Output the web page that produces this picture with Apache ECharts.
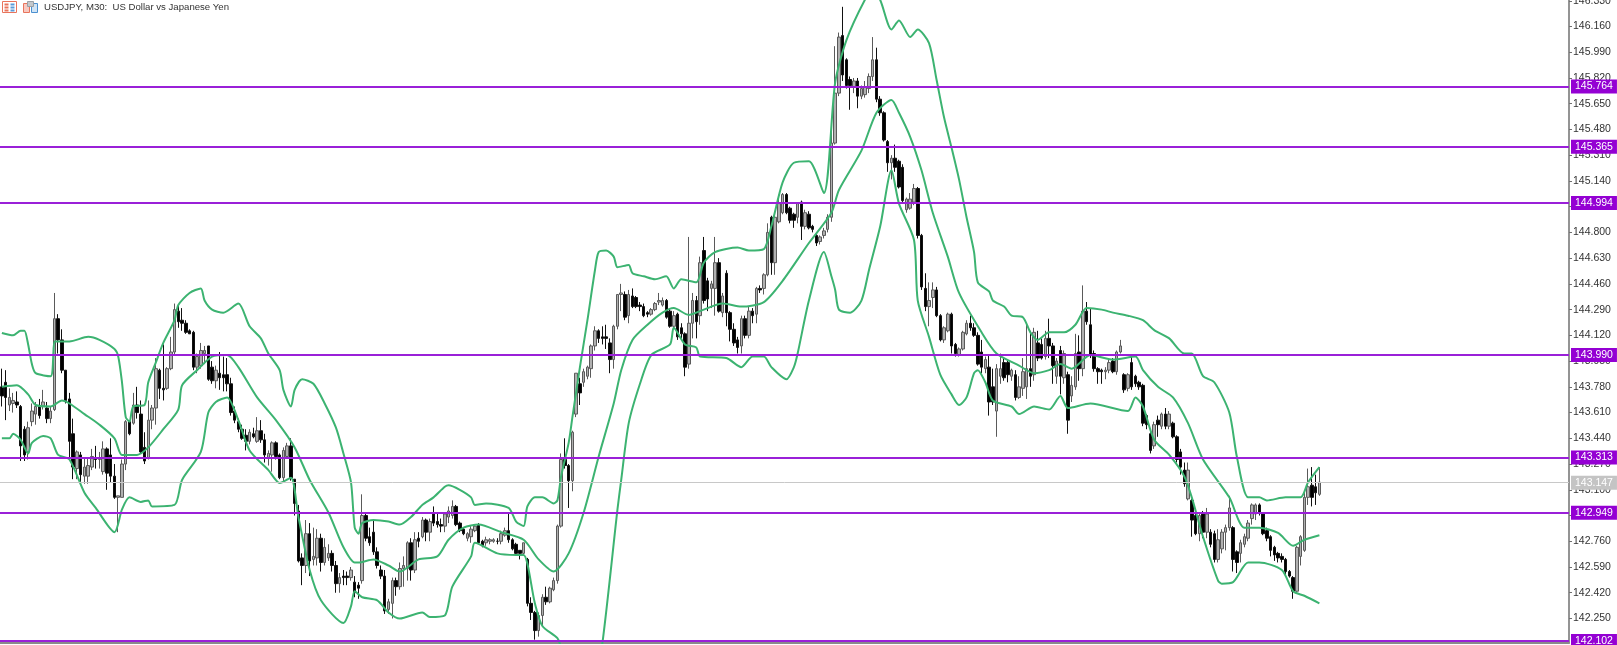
<!DOCTYPE html>
<html><head><meta charset="utf-8">
<style>html,body{margin:0;padding:0;background:#fff}#c{width:1617px;height:645px}</style>
<script src="https://cdn.jsdelivr.net/npm/echarts@6/dist/echarts.min.js"></script>
</head><body><div id="c"></div>
<script>
// Each candle row: [open, close, low, high]
const candlesLeft=[
[143.78,143.72,143.65,143.90],[143.81,143.71,143.56,143.89],[143.66,143.71,143.62,143.77],[143.67,143.69,143.61,143.74],[143.68,143.66,143.64,143.75],[143.65,143.39,143.29,143.66],[143.50,143.33,143.29,143.52],[143.35,143.51,143.30,143.55],[143.55,143.62,143.52,143.67],[143.60,143.65,143.53,143.68],
[143.65,143.59,143.57,143.70],[143.65,143.68,143.63,143.76],[143.64,143.57,143.54,143.68],[143.57,143.62,143.54,143.65],[143.63,144.23,143.62,144.40],[144.23,144.09,144.00,144.26],[144.09,143.89,143.87,144.16],[143.89,143.69,143.67,143.89],[143.70,143.42,143.31,143.74],[143.47,143.25,143.17,143.57],
[143.24,143.35,143.17,143.36],[143.33,143.20,143.14,143.35],[143.19,143.25,143.14,143.31],[143.19,143.26,143.14,143.31],[143.25,143.32,143.23,143.37],[143.31,143.30,143.24,143.39],[143.30,143.31,143.24,143.35],[143.22,143.37,143.20,143.42],[143.37,143.21,143.10,143.38],[143.33,143.19,143.15,143.44],
[143.19,143.05,143.04,143.27],[143.05,143.06,142.82,143.06],[143.05,143.27,143.05,143.30],[143.27,143.55,143.23,143.56],[143.55,143.47,143.46,143.55],[143.54,143.66,143.53,143.74],[143.66,143.61,143.57,143.78],[143.60,143.35,143.34,143.69],[143.38,143.29,143.27,143.48],[143.31,143.56,143.30,143.69],
[143.56,143.64,143.50,143.66],[143.64,143.90,143.53,143.97],[143.89,143.77,143.70,143.90],[143.77,143.76,143.69,144.06],[143.77,143.90,143.76,143.91],[143.90,144.01,143.89,144.11],[144.01,144.29,143.99,144.33],[144.28,144.21,144.17,144.32],[144.22,144.20,144.15,144.30],[144.20,144.14,144.13,144.22],
[144.15,144.13,144.13,144.16],[144.14,143.91,143.89,144.15],[143.91,143.98,143.87,144.00]];
const candlesDrop=[
[143.92,144.02,143.90,144.07],[144.00,144.02,143.93,144.05],[144.05,143.83,143.82,144.05],[143.91,143.82,143.80,143.95],[143.82,143.89,143.77,143.92],[143.87,143.84,143.76,144.01],[143.86,143.84,143.75,143.98],[143.86,143.80,143.75,143.97],[143.80,143.61,143.59,143.84],[143.62,143.56,143.54,143.65],
[143.55,143.50,143.48,143.57],[143.50,143.44,143.43,143.53],[143.46,143.42,143.36,143.50],[143.42,143.48,143.40,143.50],[143.47,143.45,143.44,143.51],[143.42,143.49,143.41,143.58],[143.49,143.43,143.41,143.56],[143.43,143.33,143.28,143.47],[143.31,143.34,143.26,143.36],[143.33,143.41,143.22,143.42],
[143.41,143.32,143.30,143.42],[143.33,143.18,143.17,143.34],[143.18,143.36,143.15,143.38],[143.32,143.39,143.31,143.41],[143.39,143.18,143.16,143.44],[143.17,143.01,142.93,143.17],[142.96,142.63,142.62,143.00],[142.65,142.60,142.47,142.68],[142.60,142.81,142.55,142.90],[142.81,142.63,142.53,142.88],
[142.64,142.66,142.60,142.85],[142.65,142.78,142.60,142.84],[142.78,142.62,142.56,142.81],[142.62,142.72,142.60,142.78],[142.65,142.68,142.63,142.74],[142.68,142.60,142.56,142.70],[142.60,142.48,142.42,142.63],[142.48,142.52,142.42,142.55],[142.53,142.52,142.47,142.57],[142.53,142.52,142.47,142.56],
[142.52,142.57,142.50,142.59],[142.49,142.42,142.39,142.53],[142.47,142.45,142.38,142.49],[142.50,142.93,142.48,143.07],[142.93,142.78,142.76,142.95],[142.79,142.75,142.73,142.85],[142.82,142.69,142.67,142.90],[142.69,142.60,142.58,142.72],[142.57,142.53,142.51,142.60],[142.53,142.30,142.28,142.57],
[142.31,142.36,142.28,142.38],[142.35,142.50,142.25,142.52],[142.50,142.46,142.40,142.52],[142.46,142.58,142.44,142.62],[142.58,142.60,142.46,142.66],[142.58,142.75,142.50,142.76],[142.75,142.57,142.50,142.78],[142.57,142.77,142.55,142.82],[142.78,142.76,142.72,142.82],[142.79,142.90,142.78,142.92],
[142.90,142.82,142.76,142.91],[142.82,142.89,142.76,142.91],[142.94,142.88,142.86,142.99],[142.89,142.87,142.85,142.94],[142.87,142.86,142.82,142.91],[142.86,142.94,142.82,142.95],[142.92,142.96,142.88,142.99],[142.93,142.99,142.91,143.03],[142.99,142.87,142.86,143.00],[142.88,142.83,142.82,142.89],
[142.84,142.81,142.80,142.85],[142.78,142.81,142.76,142.82],[142.79,142.84,142.75,142.86],[142.83,142.86,142.82,142.87],[142.87,142.75,142.74,142.88],[142.76,142.73,142.72,142.77],[142.75,142.77,142.73,142.79],[142.76,142.77,142.74,142.78],[142.76,142.77,142.75,142.78],[142.76,142.76,142.74,142.78],
[142.76,142.81,142.74,142.83],[142.80,142.83,142.79,142.85],[142.83,142.77,142.75,142.95],[142.77,142.71,142.70,142.78],[142.74,142.68,142.67,142.75],[142.70,142.68,142.64,142.70],[142.68,142.75,142.67,142.75],[142.64,142.35,142.33,142.65],[142.35,142.29,142.24,142.39],[142.29,142.17,142.11,142.30],
[142.17,142.27,142.13,142.29],[142.27,142.39,142.20,142.41],[142.39,142.36,142.34,142.46],[142.36,142.45,142.35,142.46],[142.44,142.50,142.43,142.52],[142.50,142.86,142.48,142.87],[142.86,143.30,142.85,143.34],[143.30,143.26,143.24,143.44],[143.26,143.16,142.98,143.27],[143.16,143.48,143.09,143.49],
[143.60,143.87,143.58,143.87],[143.80,143.74,143.66,143.84]];
const candlesRally=[
[143.81,143.88,143.78,143.90],[143.85,143.91,143.83,143.92],[143.90,144.05,143.84,144.06],[144.05,144.15,144.02,144.18],[144.15,144.10,144.07,144.16],[144.11,144.10,144.06,144.18],[144.11,144.10,144.03,144.19],[144.07,143.96,143.87,144.10],[143.96,144.18,143.90,144.19],[144.18,144.39,144.16,144.39],
[144.39,144.40,144.28,144.46],[144.39,144.24,144.22,144.41],[144.25,144.39,144.20,144.42],[144.38,144.31,144.30,144.43],[144.37,144.31,144.30,144.38],[144.32,144.31,144.28,144.34],[144.31,144.25,144.24,144.33],[144.27,144.26,144.24,144.28],[144.26,144.29,144.25,144.30],[144.29,144.33,144.28,144.34],
[144.34,144.35,144.32,144.40],[144.32,144.35,144.31,144.37],[144.35,144.24,144.23,144.36],[144.28,144.18,144.17,144.30],[144.18,144.25,144.17,144.28],[144.26,144.11,144.09,144.27],[144.17,144.13,144.10,144.20],[144.13,143.91,143.85,144.14],[143.93,144.20,143.90,144.77],[144.20,144.35,144.10,144.40],
[144.35,144.21,144.10,144.38],[144.25,144.60,144.19,144.64],[144.68,144.35,144.33,144.77],[144.48,144.36,144.28,144.50],[144.43,144.46,144.30,144.48],[144.43,144.60,144.25,144.77],[144.60,144.28,144.27,144.63],[144.27,144.38,144.24,144.40],[144.53,144.27,144.18,144.55],[144.27,144.16,144.08,144.28],
[144.16,144.07,144.05,144.20],[144.09,144.04,144.00,144.11],[144.05,144.23,144.00,144.25],[144.23,144.12,144.10,144.25],[144.12,144.28,144.10,144.31],[144.28,144.25,144.20,144.30],[144.26,144.43,144.20,144.44],[144.43,144.42,144.40,144.45],[144.43,144.52,144.39,144.53],[144.52,144.80,144.51,144.86],
[144.90,144.60,144.52,144.91],[144.60,144.90,144.52,144.92],[144.87,144.99,144.86,145.02],[144.93,145.05,144.92,145.06],[145.05,144.93,144.92,145.06],[144.96,144.88,144.86,144.97],[144.92,144.88,144.83,144.93],[144.90,144.99,144.86,145.00],[145.00,144.84,144.75,145.01],[144.84,144.93,144.82,144.95],
[144.92,144.83,144.82,144.94],[144.84,144.82,144.80,144.85],[144.78,144.73,144.71,144.79],[144.74,144.77,144.72,144.78],[144.78,144.81,144.76,144.83],[144.82,144.90,144.80,144.92],[144.90,145.39,144.87,145.49],[145.39,145.72,145.38,146.03],[145.72,146.09,145.70,146.12],[146.10,145.84,145.80,146.29],
[145.94,145.77,145.75,145.95],[145.81,145.77,145.61,145.83],[145.76,145.80,145.72,145.82],[145.80,145.70,145.62,145.82],[145.70,145.75,145.68,145.77],[145.71,145.76,145.69,145.80],[145.75,145.83,145.72,145.85],[145.83,145.94,145.80,146.09],[145.94,145.68,145.66,146.02],[145.68,145.59,145.57,145.70],
[145.59,145.41,145.40,145.60],[145.40,145.26,145.20,145.41],[145.26,145.29,145.15,145.31],[145.29,145.23,145.20,145.38],[145.27,145.10,145.09,145.28],[145.23,145.01,145.00,145.25],[144.95,145.02,144.93,145.03],[144.96,145.02,144.95,145.06],[145.00,145.09,144.98,145.12],[145.09,144.78,144.76,145.10],
[144.78,144.44,144.42,144.79],[144.43,144.31,144.28,144.53],[144.31,144.35,144.18,144.47],[144.37,144.42,144.30,144.47],[144.42,144.25,144.24,144.44],[144.25,144.09,144.08,144.26],[144.09,144.17,144.07,144.18],[144.15,144.26,144.14,144.27],[144.26,144.05,144.00,144.27],[144.06,144.00,143.98,144.07],
[143.99,144.03,143.98,144.04],[144.03,144.14,144.02,144.15],[144.13,144.20,144.12,144.22],[144.20,144.17,144.15,144.25],[144.17,144.12,144.11,144.20],[144.12,143.93,143.92,144.14]];
const candlesRange=[
[144.01,143.91,143.87,144.09],[143.90,143.96,143.87,143.98],[143.91,143.68,143.59,143.99],[143.78,143.68,143.66,143.90],[143.62,143.90,143.45,143.93],[143.85,143.90,143.80,144.00],[143.94,143.84,143.82,143.97],[143.94,143.86,143.81,143.96],[143.85,143.89,143.82,143.90],[143.86,143.71,143.69,143.89],
[143.71,143.78,143.70,143.85],[143.77,143.88,143.72,143.97],[143.78,143.90,143.70,144.20],[143.90,143.85,143.78,144.15],[143.86,144.14,143.82,144.17],[144.07,143.97,143.95,144.15],[144.06,143.97,143.96,144.10],[143.98,144.10,143.96,144.15],[144.10,144.05,143.97,144.23],[144.05,143.92,143.80,144.07],
[143.85,143.95,143.80,143.97],[144.02,143.85,143.73,144.05],[143.84,144.00,143.80,144.02],[143.86,143.56,143.47,143.88],[143.72,143.79,143.68,143.85],[143.78,144.00,143.76,144.13],[144.01,143.90,143.82,144.12],[143.90,144.28,143.85,144.45],[144.28,144.21,144.19,144.34],[144.19,143.99,143.97,144.30],
[144.00,143.90,143.88,144.02],[143.90,143.88,143.80,143.91],[143.89,143.88,143.80,143.90],[143.88,143.89,143.83,143.91],[143.89,143.94,143.87,143.96],[143.95,143.88,143.87,143.97],[143.88,144.01,143.86,144.02],[144.01,144.05,144.00,144.09],[143.86,143.76,143.74,143.87],[143.77,143.86,143.75,143.87],
[143.94,143.78,143.76,143.98],[143.85,143.80,143.78,143.86],[143.81,143.78,143.76,143.82],[143.79,143.54,143.52,143.80],[143.59,143.53,143.50,143.60],[143.47,143.36,143.34,143.48],[143.39,143.53,143.37,143.55],[143.56,143.53,143.45,143.59],[143.52,143.60,143.50,143.61],[143.60,143.52,143.50,143.64],
[143.52,143.60,143.50,143.62],[143.54,143.45,143.44,143.55],[143.45,143.30,143.28,143.46]];
const candlesEnd=[
[143.35,143.25,143.20,143.37],[143.23,143.14,143.12,143.28],[143.04,143.23,143.03,143.28],[143.03,142.90,142.79,143.04],[142.93,142.81,142.80,142.95],[142.81,142.93,142.76,142.95],[142.94,142.82,142.78,142.96],[142.82,142.94,142.78,142.98],[142.82,142.74,142.72,142.84],[142.81,142.64,142.62,142.83],
[142.64,142.77,142.62,142.84],[142.71,142.82,142.68,142.84],[142.82,142.85,142.70,142.87],[142.85,142.98,142.83,143.06],[142.85,142.64,142.56,142.86],[142.69,142.62,142.55,142.70],[142.68,142.75,142.62,142.77],[142.74,142.79,142.72,142.81],[142.78,142.88,142.76,142.90],[142.91,143.00,142.87,143.01],
[142.94,143.00,142.90,143.01],[143.00,142.95,142.93,143.01],[142.94,142.81,142.80,142.95],[142.83,142.78,142.76,142.85],[142.79,142.70,142.66,142.80],[142.72,142.67,142.63,142.73],[142.68,142.65,142.62,142.69],[142.66,142.64,142.62,142.68],[142.64,142.56,142.54,142.65],[142.56,142.53,142.52,142.57],
[142.52,142.43,142.38,142.53],[142.43,142.72,142.42,142.73],[142.66,142.79,142.60,142.80],[142.70,143.05,142.69,143.08],[143.05,143.12,143.00,143.24],[143.13,143.05,142.99,143.25],[143.12,143.08,143.00,143.20],[143.07,143.15,143.06,143.25]];
const candles=[...candlesLeft,...candlesDrop,...candlesRally,...candlesRange,...candlesEnd];

// Bollinger bands: [bar number, price]
const upperBand=[[0,144.136],[3,144.12],[5,144.15],[6,144.15],[7,144.06],[8,143.93],[9,143.87],[13,143.85],[14,144.08],[15,144.08],[18,144.08],[23,144.11],[26,144.09],[30,144.03],[31,143.98],[32,143.81],[33,143.58],[34,143.55],[35,143.65],[38,143.66],[39,143.81],[41,143.94],[43,144.07],[46,144.22],[47,144.32],[50,144.40],[53,144.43],[54,144.35],[56,144.29],[59,144.27],[63,144.33],[66,144.18],[69,144.10],[71,144.0],[74,143.89],[75,143.76],[77,143.65],[78,143.76],[80,143.83],[83,143.80],[86,143.67],[89,143.51],[91,143.34],[93,143.15],[94,142.85],[95,142.81],[96,142.88],[99,142.9],[103,142.89],[106,142.87],[109,142.92],[112,143.0],[115,143.05],[118,143.12],[119,143.13],[122,143.10],[125,143.05],[126,143.0],[129,143.01],[135,142.98],[137,142.89],[139,142.86],[140,142.99],[142,143.05],[144,143.05],[147,143.01],[148,143.03],[149,143.19],[151,143.41],[152,143.58],[154,143.91],[156,144.22],[158,144.55],[159,144.67],[161,144.68],[163,144.64],[164,144.57],[167,144.585],[168,144.53],[171,144.51],[174,144.49],[177,144.51],[179,144.43],[181,144.49],[185,144.47],[187,144.6],[190,144.67],[196,144.70],[199,144.68],[203,144.69],[205,144.84],[208,145.13],[211,145.26],[215,145.27],[219,145.06],[222,145.79],[225,146.07],[230,146.34],[232,146.40],[234,146.335],[237,146.14],[239,146.20],[242,146.09],[244,146.14],[247,146.05],[249,145.81],[251,145.56],[253,145.36],[255,145.15],[257,144.90],[259,144.67],[260,144.47],[263,144.41],[264,144.35],[267,144.31],[269,144.25],[272,144.24],[274,144.14],[276,144.09],[279,144.14],[283,144.14],[286,144.19],[289,144.30],[293,144.29],[296,144.27],[300,144.25],[304,144.22],[307,144.155],[311,144.10],[315,144.0],[317,144.0],[320,143.85],[323,143.81],[327,143.61],[329,143.32],[332,143.05],[335,143.05],[337,143.03],[342,143.05],[346,143.05],[348,143.15],[351,143.25]];
const middleBand=[[0,143.78],[4,143.79],[7,143.73],[9,143.66],[13,143.65],[16,143.69],[18,143.67],[22,143.60],[26,143.53],[30,143.44],[32,143.33],[36,143.33],[39,143.38],[43,143.50],[47,143.63],[48,143.79],[52,143.89],[56,143.98],[60,143.99],[63,143.91],[68,143.71],[73,143.56],[78,143.38],[82,143.165],[87,142.95],[91,142.72],[94,142.62],[95,142.62],[99,142.64],[103,142.60],[106,142.56],[111,142.64],[116,142.66],[119,142.77],[123,142.85],[127,142.87],[133,142.82],[139,142.77],[143,142.64],[147,142.56],[151,142.68],[155,142.95],[159,143.32],[163,143.67],[165,143.89],[168,144.09],[172,144.19],[176,144.27],[179,144.30],[183,144.255],[186,144.28],[192,144.33],[197,144.31],[203,144.34],[208,144.48],[215,144.73],[221,144.93],[223,145.08],[229,145.34],[233,145.59],[237,145.675],[239,145.59],[242,145.43],[245,145.21],[248,144.93],[252,144.64],[255,144.40],[261,144.14],[265,144.0],[271,143.92],[275,143.87],[279,143.89],[282,143.93],[285,143.90],[290,143.99],[296,143.96],[302,143.98],[304,143.89],[308,143.78],[312,143.71],[316,143.54],[320,143.30],[327,143.05],[331,142.85],[335,142.85],[340,142.815],[344,142.73],[347,142.77],[351,142.80]];
const lowerBand=[[0,143.44],[2,143.44],[3,143.47],[5,143.43],[7,143.34],[8,143.41],[11,143.455],[13,143.44],[15,143.33],[18,143.30],[22,143.08],[25,142.98],[30,142.82],[32,142.97],[34,143.05],[37,143.02],[39,143.03],[40,142.99],[46,143.0],[48,143.165],[53,143.35],[55,143.61],[57,143.68],[60,143.71],[63,143.56],[66,143.36],[71,143.23],[74,143.145],[77,143.18],[79,142.92],[82,142.57],[85,142.37],[91,142.22],[93,142.33],[94,142.43],[96,142.39],[100,142.37],[103,142.29],[106,142.25],[112,142.29],[114,142.26],[118,142.27],[120,142.46],[125,142.66],[126,142.75],[132,142.68],[137,142.67],[139,142.67],[142,142.35],[144,142.20],[148,142.12],[149,142.06],[154,141.85],[158,141.85],[160,142.09],[164,142.97],[165,143.165],[167,143.54],[170,143.80],[173,143.99],[178,144.06],[179,144.17],[182,144.06],[185,144.04],[186,143.98],[193,143.97],[197,143.91],[200,143.98],[203,143.98],[205,143.91],[209,143.83],[211,143.91],[212,144.0],[215,144.35],[219,144.67],[221,144.51],[222,144.42],[223,144.29],[226,144.27],[229,144.35],[231,144.55],[234,144.84],[237,145.21],[239,144.99],[243,144.75],[244,144.35],[247,144.11],[250,143.86],[253,143.73],[255,143.66],[257,143.71],[259,143.87],[260,143.89],[262,143.81],[264,143.69],[269,143.65],[271,143.60],[275,143.65],[279,143.63],[282,143.72],[284,143.64],[290,143.67],[300,143.62],[302,143.71],[304,143.65],[307,143.43],[311,143.33],[315,143.19],[317,143.05],[320,142.79],[324,142.50],[325,142.48],[328,142.49],[332,142.62],[335,142.62],[341,142.57],[344,142.43],[347,142.40],[351,142.35]];

const levels=[145.764,145.365,144.994,143.990,143.313,142.949,142.102];
const bidPrice=143.147;
const tickValues=[146.33,146.16,145.99,145.82,145.65,145.48,145.31,145.14,144.97,144.80,144.63,144.46,144.29,144.12,143.95,143.78,143.61,143.44,143.27,143.10,142.93,142.76,142.59,142.42,142.25];
const chartTitle='USDJPY, M30:  US Dollar vs Japanese Yen';
const barSlots=418;
const categories=Array.from({length:barSlots},(_,i)=>String(i));

const fontName='"Liberation Sans", Arial, sans-serif';
const bandLine=d=>({type:'line',data:d,showSymbol:false,symbol:'none',smooth:0.25,clip:true,z:4,
  lineStyle:{color:'#3cb371',width:2},silent:true});
const markLabel=(bg,text)=>({show:true,position:'end',distance:2,formatter:p=>p.value.toFixed(3),
  color:text,backgroundColor:bg,fontFamily:fontName,fontSize:10.5,padding:[2,4,1,4],align:'left',verticalAlign:'middle'});

const chart=echarts.init(document.getElementById('c'),null,{renderer:'canvas'});
chart.setOption({
  animation:false,
  backgroundColor:'#fff',
  title:{text:chartTitle,left:44,top:2,padding:0,textStyle:{fontFamily:fontName,fontSize:9.6,fontWeight:'normal',color:'#333'}},
  grid:{left:0,top:0,width:1569,height:643,outerBoundsMode:'none',containLabel:false},
  xAxis:{type:'category',data:categories,boundaryGap:true,
    axisLine:{show:true,onZero:false,lineStyle:{color:'#8a8a8a',width:2}},axisTick:{show:false},axisLabel:{show:false},splitLine:{show:false}},
  yAxis:{type:'value',position:'right',min:142.088,max:146.335,scale:true,
    axisLine:{show:true,lineStyle:{color:'#707070',width:1.5}},
    axisTick:{show:true,length:3,customValues:tickValues,lineStyle:{color:'#707070'}},
    axisLabel:{show:true,margin:4,customValues:tickValues,color:'#333',fontFamily:fontName,fontSize:10.5,formatter:v=>v.toFixed(3)},
    splitLine:{show:false}},
  series:[
    {type:'line',data:[],z:1,markLine:{silent:true,symbol:'none',animation:false,precision:3,
      lineStyle:{color:'#c8c8c8',width:1,type:'solid'},label:markLabel('#c4c4c4','#fff'),data:[{yAxis:bidPrice}]}},
    {type:'candlestick',data:candles,barWidth:3,clip:true,z:2,silent:true,
      itemStyle:{color:'#b0b0b0',color0:'#000',borderColor:'#5a5a5a',borderColor0:'#111',borderWidth:1}},
    bandLine(upperBand),bandLine(middleBand),bandLine(lowerBand),
    {type:'line',data:[],z:6,markLine:{silent:true,symbol:'none',animation:false,precision:3,
      lineStyle:{color:'#9a20d8',width:2,type:'solid'},label:markLabel('#9400d3','#fff'),data:levels.map(v=>({yAxis:v}))}}
  ],
  graphic:[
    {type:'group',left:2,top:1,children:[
      {type:'rect',shape:{x:0,y:0,width:14,height:11},style:{fill:'#fff',stroke:'#e8745c',lineWidth:1}},
      {type:'rect',shape:{x:2,y:2,width:4,height:2},style:{fill:'#e8745c'}},
      {type:'rect',shape:{x:2,y:5,width:4,height:2},style:{fill:'#e8745c'}},
      {type:'rect',shape:{x:2,y:8,width:4,height:2},style:{fill:'#e8745c'}},
      {type:'rect',shape:{x:8,y:2,width:4,height:2},style:{fill:'#5a9bd8'}},
      {type:'rect',shape:{x:8,y:5,width:4,height:2},style:{fill:'#5a9bd8'}},
      {type:'rect',shape:{x:8,y:8,width:4,height:2},style:{fill:'#5a9bd8'}}
    ]},
    {type:'group',left:23,top:1,children:[
      {type:'rect',shape:{x:0,y:2,width:6,height:9},style:{fill:'#f8c8c0',stroke:'#e8745c',lineWidth:1}},
      {type:'rect',shape:{x:8,y:2,width:6,height:9},style:{fill:'#d0e4f6',stroke:'#4a90d0',lineWidth:1}},
      {type:'rect',shape:{x:4,y:0,width:6,height:5},style:{fill:'#c4c8cc',stroke:'#9aa0a6',lineWidth:1}}
    ]}
  ]
});
</script></body></html>
